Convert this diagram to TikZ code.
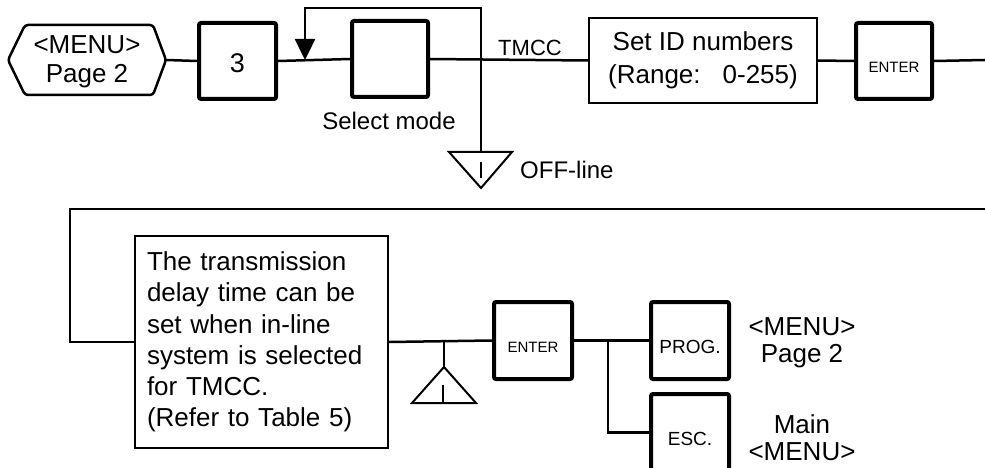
\documentclass[tikz,border=0pt]{standalone}
\usepackage{fontspec}
\setmainfont{Liberation Sans}
\usetikzlibrary{arrows.meta}
\tikzset{
  conn/.style={line width=2.5pt},
  keybox/.style={draw, line width=4pt, rounded corners=2pt, inner sep=0pt, text depth=0pt},
  infobox/.style={draw, line width=2pt, inner sep=0pt},
  lbl/.style={inner sep=0pt, align=center, font=\fontsize{24}{26}\selectfont},
  biglbl/.style={inner sep=0pt, align=center, font=\fontsize{26}{27}\selectfont},
}
\begin{document}
\begin{tikzpicture}[x=1pt, y=-1pt]
\clip (0,0) rectangle (985,468);
% --- top row ---
\node[biglbl, font=\fontsize{26}{28.5}\selectfont] (menu) at (87,62) {<MENU>\\Page 2};
\draw[line width=2.5pt, rounded corners=3pt] (25,25) -- (153,25) -- (166,60) -- (153,95) -- (25,95) -- (8,60) -- cycle;
\coordinate (menuE) at (166,60);
\node[keybox, minimum width=77pt, minimum height=76pt, text height=23pt, font=\fontsize{27}{27}\selectfont] (key3) at (237.5,61) {3};
\node[keybox, minimum width=76pt, minimum height=76pt] (sel) at (390,59) {};
\node[lbl] (selmode) at (389,121) {Select mode};
\node[infobox, minimum width=228pt, minimum height=85pt, align=center, font=\fontsize{26}{33}\selectfont] (setid) at (703,60.5) {Set ID numbers\\(Range:\hspace{22pt}0-255)};
\node[keybox, minimum width=76pt, minimum height=76pt, text height=24pt, font=\fontsize{15}{15}\selectfont] (enter1) at (894,61) {ENTER};
\coordinate (endtop) at (985,60);
\coordinate (arrtip) at (305,60);
\coordinate (loopL) at (305,8);
\coordinate (loopR) at (481,8);
% down triangle (OFF-line)
\coordinate (tri1) at (481,152);
\draw[line width=2pt, line join=miter] (449,152) -- (512,152) -- (481,188) -- cycle;
\draw[line width=2pt] (481,162) -- (481,178);
\node[lbl, anchor=west] (offline) at (520,170) {OFF-line};
\node[lbl, font=\fontsize{22}{22}\selectfont] (tmcc) at (530,48) {TMCC};

\draw[conn] (menuE) -- (key3.west);
\draw[conn] (key3.east) -- (sel.west);
\draw[conn] (sel.east) -- (setid.west);
\draw[conn] (setid.east) -- (enter1.west);
\draw[conn] (enter1.east) -- (endtop);
\draw[conn] (tri1) -- (loopR) -- (loopL) -- (arrtip |- 0,39);
\draw[conn, -{Triangle[width=20pt,length=21pt]}] (loopL) -- (arrtip);

% --- bottom row ---
\coordinate (btopR) at (985,209);
\coordinate (btopL) at (70,209);
\node[infobox, text width=229pt, inner xsep=12pt, minimum height=212pt, align=left, font=\fontsize{26}{31.2}\selectfont] (tbox) at (261.5,342) {The transmission\\delay time can be\\set when in-line\\system is selected\\for TMCC.\\(Refer to Table 5)};
\node[keybox, minimum width=78pt, minimum height=77pt, text height=23pt, font=\fontsize{15}{15}\selectfont] (enter2) at (533,340.5) {ENTER};
\node[keybox, minimum width=78pt, minimum height=77pt, text height=26pt, font=\fontsize{19}{19}\selectfont] (prog) at (690,340.5) {PROG.};
\node[keybox, minimum width=78pt, minimum height=77pt, text height=26pt, font=\fontsize{19}{19}\selectfont] (esc) at (690,432.5) {ESC.};
\node[biglbl] (lblprog) at (802,343) {<MENU>\\Page 2};
\node[biglbl] (lblesc) at (802,437.5) {Main\\<MENU>};
% up triangle
\coordinate (stem) at (444,340);
\coordinate (tri2) at (444,367);
\draw[line width=2pt, line join=miter] (444,367) -- (476,403) -- (412,403) -- cycle;
\draw[line width=2pt] (443,385) -- (443,403);
\coordinate (branch) at (608,340);

\draw[conn] (btopR) -- (btopL) |- (tbox.west);
\draw[conn] (tbox.east) -- (enter2.west);
\draw[conn] (stem) -- (tri2);
\draw[conn] (enter2.east) -- (prog.west);
\draw[conn] (branch) |- (esc.west);
\end{tikzpicture}
\end{document}
